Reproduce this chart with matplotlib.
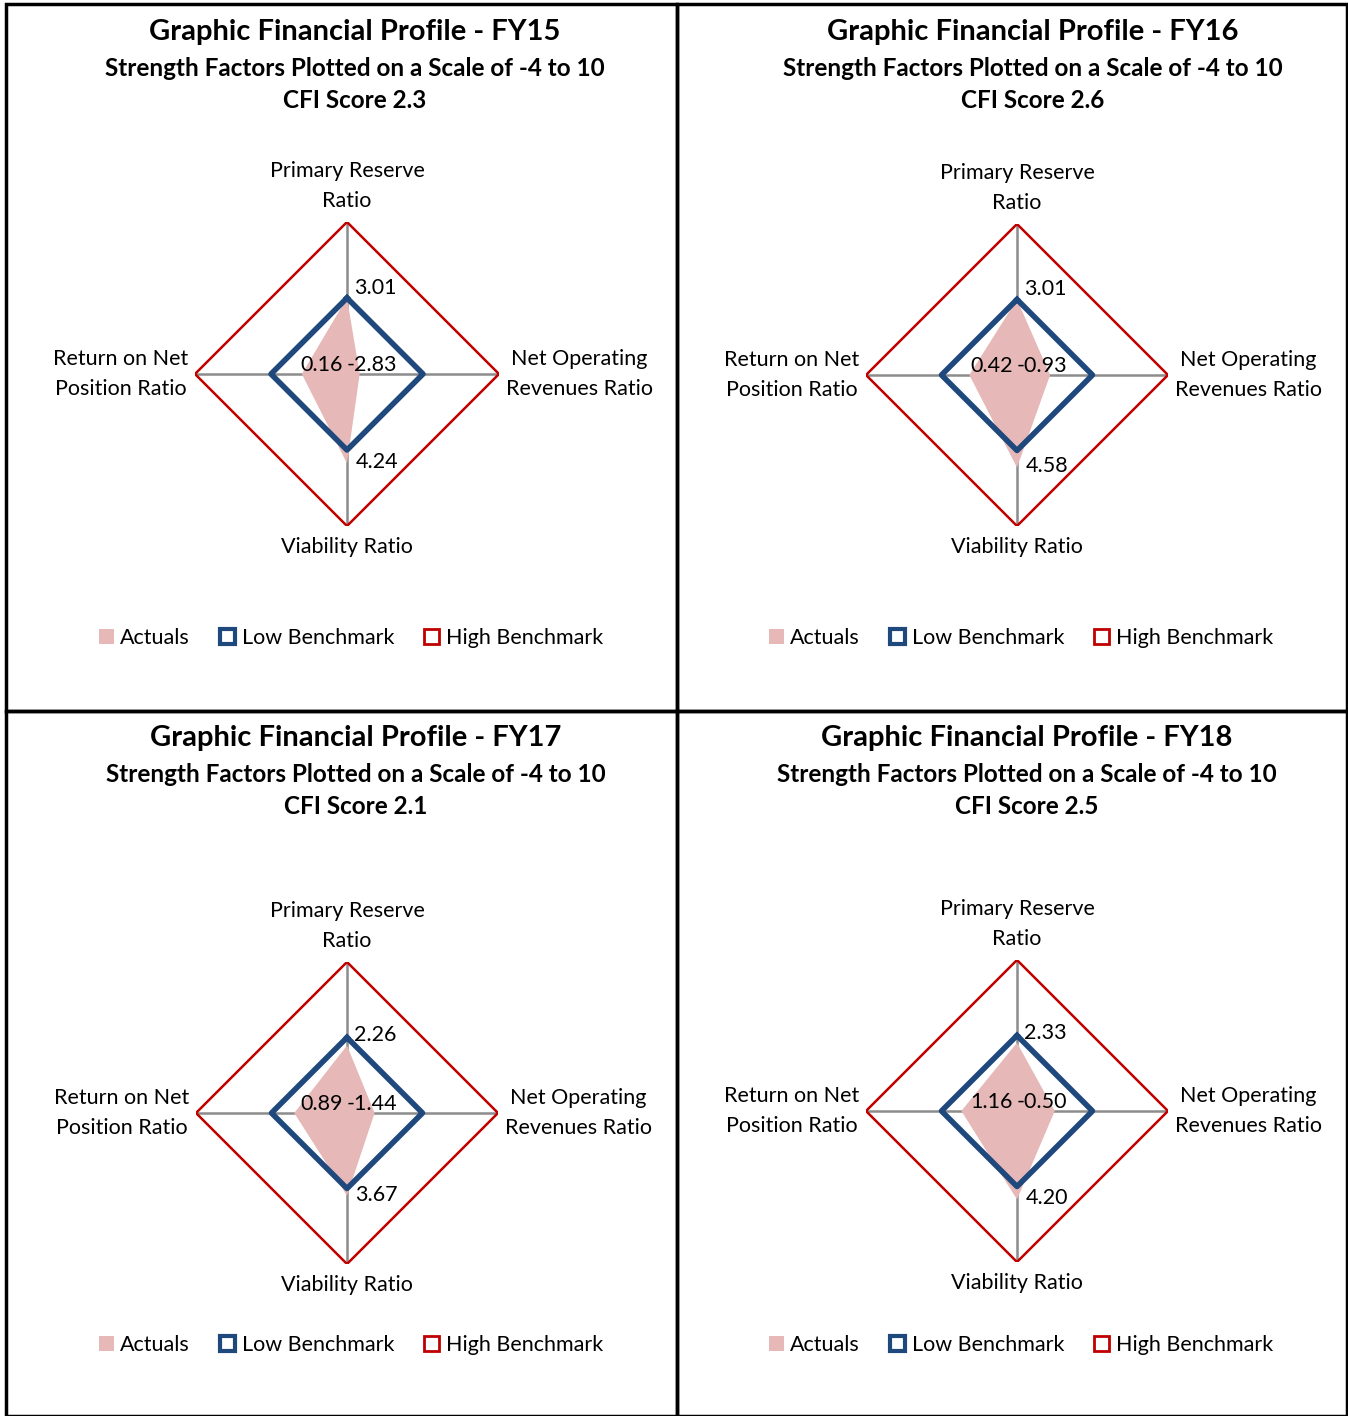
import numpy as np
import matplotlib.pyplot as plt
from matplotlib.patches import Patch, Rectangle

# ---------------------------------------------------------
# data
# ---------------------------------------------------------
CATEGORIES = ["Primary Reserve\nRatio", "Net Operating\nRevenues Ratio",
              "Viability Ratio", "Return on Net\nPosition Ratio"]
YEARS = ["FY15", "FY16", "FY17", "FY18"]
CFI_SCORES = ["2.3", "2.6", "2.1", "2.5"]

ACTUALS_FY15 = [3.01, -2.83, 4.24, 0.16]
ACTUALS_FY16 = [3.01, -0.93, 4.58, 0.42]
ACTUALS_FY17 = [2.26, -1.44, 3.67, 0.89]
ACTUALS_FY18 = [2.33, -0.50, 4.20, 1.16]
ACTUALS = [ACTUALS_FY15, ACTUALS_FY16, ACTUALS_FY17, ACTUALS_FY18]

LOW_BENCHMARK = [3, 3, 3, 3]
HIGH_BENCHMARK = [10, 10, 10, 10]
R_MIN, R_MAX = -4, 10

# ---------------------------------------------------------
# layout (pixels)
# ---------------------------------------------------------
W, H = 1348, 1416
# centre x, centre y, radius, title x, title y, legend y
PANELS = [
    (347, 374, 152, 355, 32, 638),
    (1017, 375, 151, 1033, 32, 638),
    (347, 1113, 151, 356, 738, 1345),
    (1017, 1111, 151, 1027, 738, 1345),
]

PINK = "#E6B9B8"
BLUE = "#1F497D"
RED = "#C00000"
GREY = "#8C8C8C"

plt.rcParams["font.family"] = ["Lato", "DejaVu Sans"]

fig = plt.figure(figsize=(W / 100, H / 100), dpi=100)

# panel borders
for x0, y0, x1, y1 in [(6, 4, 677, 711), (677, 4, 1347, 711),
                       (6, 711, 677, 1416), (677, 711, 1347, 1416)]:
    fig.patches.append(Rectangle((x0 / W, 1 - y1 / H), (x1 - x0) / W, (y1 - y0) / H,
                                 transform=fig.transFigure, fill=False,
                                 edgecolor="black", linewidth=2.5))

angles = np.linspace(0, 2 * np.pi, len(CATEGORIES), endpoint=False)
closed = np.append(angles, angles[0])

for i, (cx, cy, rad, tx, ty, ly) in enumerate(PANELS):
    ax = fig.add_axes([(cx - rad) / W, 1 - (cy + rad) / H, 2 * rad / W, 2 * rad / H],
                      projection="polar")
    ax.set_theta_zero_location("N")
    ax.set_theta_direction(-1)
    ax.set_ylim(R_MIN, R_MAX)
    ax.set_yticks([])
    ax.set_xticks(angles)
    ax.set_xticklabels([])
    ax.xaxis.grid(True, color=GREY, linewidth=1.8)
    ax.spines["polar"].set_visible(False)
    ax.patch.set_alpha(0)
    ax.tick_params(axis="x", length=0)

    vals = ACTUALS[i]
    ax.fill(closed, np.append(vals, vals[0]), color=PINK, linewidth=0, zorder=2)
    ax.plot(closed, np.append(LOW_BENCHMARK, LOW_BENCHMARK[0]), color=BLUE,
            linewidth=4, zorder=3)
    ax.plot(closed, np.append(HIGH_BENCHMARK, HIGH_BENCHMARK[0]), color=RED,
            linewidth=1.8, zorder=3)

    # data labels
    lbl = dict(fontsize=15.5, color="black", textcoords="offset points",
               annotation_clip=False, zorder=5)
    ax.annotate(f"{vals[0]:.2f}", xy=(angles[0], vals[0]), xytext=(5, 0),
                ha="left", va="bottom", **lbl)
    ax.annotate(f"{vals[1]:.2f}", xy=(angles[1], R_MIN), xytext=(0, -1),
                ha="left", va="bottom", **lbl)
    ax.annotate(f"{vals[2]:.2f}", xy=(angles[2], vals[2]), xytext=(6, 8),
                ha="left", va="top", **lbl)
    ax.annotate(f"{vals[3]:.2f}", xy=(angles[3], R_MIN), xytext=(-3, -1),
                ha="right", va="bottom", **lbl)

    # category labels
    cat = dict(fontsize=15.5, color="black", textcoords="offset points",
               annotation_clip=False, multialignment="center", linespacing=1.62)
    ax.annotate(CATEGORIES[0], xy=(angles[0], R_MAX), xytext=(0, 8),
                ha="center", va="bottom", **cat)
    ax.annotate(CATEGORIES[1], xy=(angles[1], R_MAX), xytext=(5, 0),
                ha="left", va="center", **cat)
    ax.annotate(CATEGORIES[2], xy=(angles[2], R_MAX), xytext=(0, -8),
                ha="center", va="top", **cat)
    ax.annotate(CATEGORIES[3], xy=(angles[3], R_MAX), xytext=(-5, 0),
                ha="right", va="center", **cat)

    # titles
    fig.text(tx / W, 1 - ty / H, f"Graphic Financial Profile - {YEARS[i]}",
             ha="center", va="center", fontsize=21, fontweight="bold")
    fig.text(tx / W, 1 - (ty + 36) / H, "Strength Factors Plotted on a Scale of -4 to 10",
             ha="center", va="center", fontsize=17.5, fontweight="bold")
    fig.text(tx / W, 1 - (ty + 68) / H, f"CFI Score {CFI_SCORES[i]}",
             ha="center", va="center", fontsize=17.5, fontweight="bold")

    # legend
    handles = [Patch(facecolor=PINK, edgecolor="none", label="Actuals"),
               Patch(facecolor="white", edgecolor=BLUE, linewidth=3, label="Low Benchmark"),
               Patch(facecolor="white", edgecolor=RED, linewidth=2, label="High Benchmark")]
    ax.legend(handles=handles, loc="center", ncol=3, frameon=False,
              bbox_to_anchor=(0.5 + 4 / (2 * rad), -(ly - cy - rad) / (2 * rad)),
              fontsize=15.5, handlelength=0.7, handleheight=0.7,
              handletextpad=0.3, columnspacing=1.4)

fig.savefig("out.png", dpi=100)
